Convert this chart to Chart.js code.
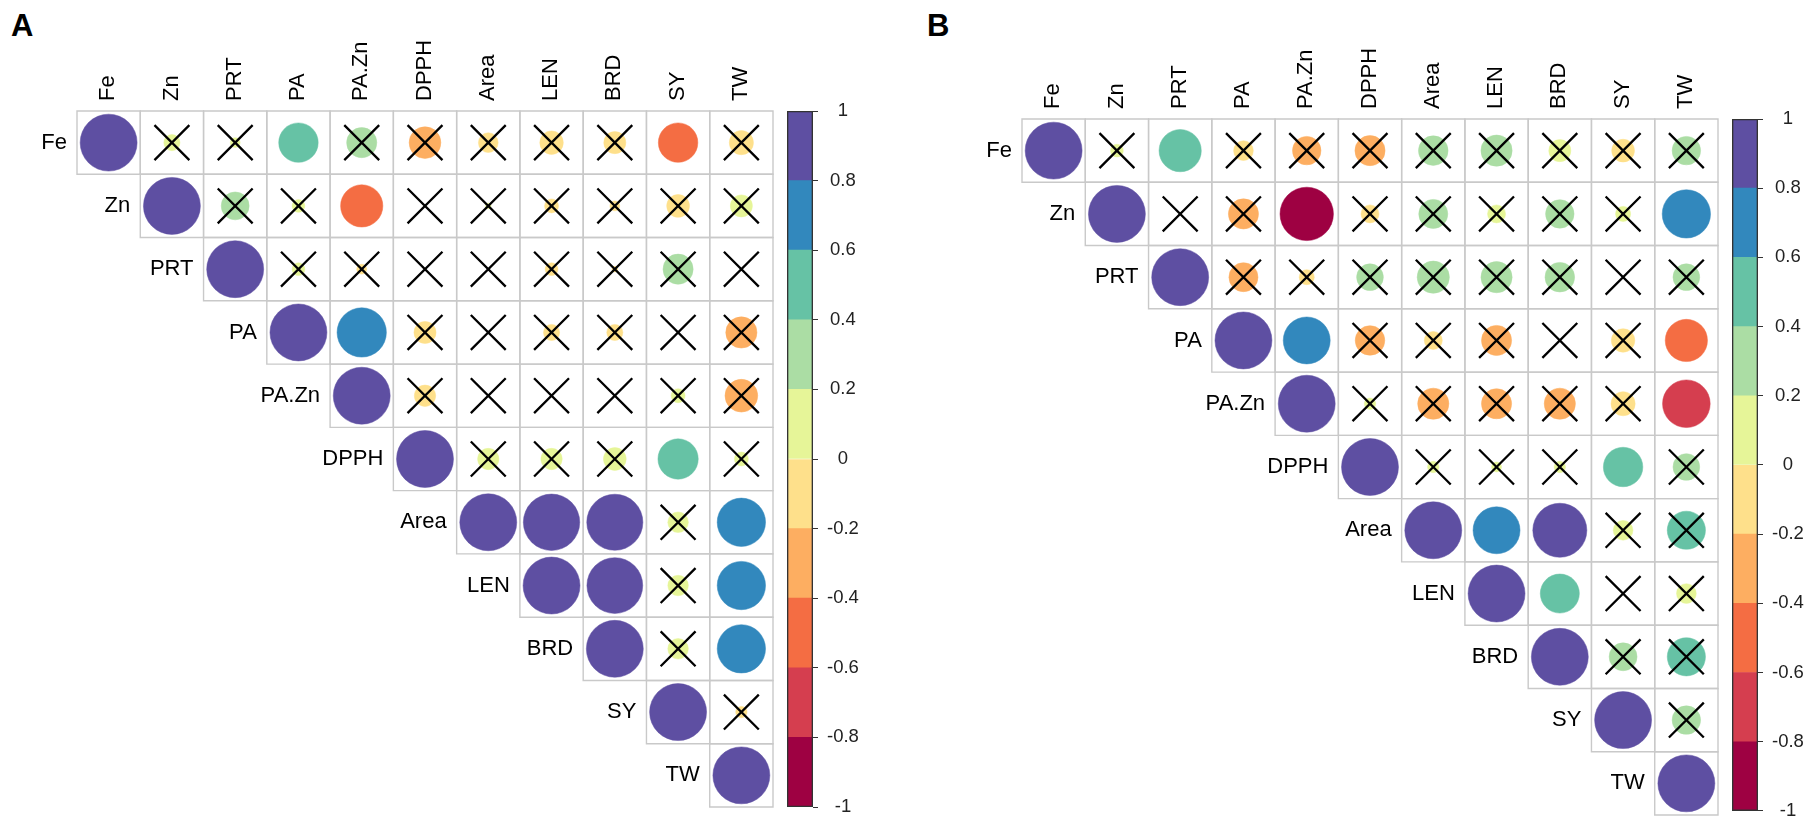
<!DOCTYPE html>
<html lang="en">
<head>
<meta charset="UTF-8">
<title>Correlation plots A / B</title>
<script src="https://cdn.jsdelivr.net/npm/chart.js"></script>
<style>
    body { margin: 0; background: #fff; }
    .stage { position: relative; width: 1819px; height: 831px; overflow: hidden; font-family: "Liberation Sans", Arial, sans-serif; }
    .stage canvas { position: absolute; top: 0; }
    .tag { position: absolute; font-weight: bold; font-size: 31px; line-height: 1; color: #000; }
</style>
</head>
<body>
<div class="stage">
    <div class="tag" style="left:11px;top:10px">A</div>
    <div class="tag" style="left:927px;top:10px">B</div>
    <canvas id="corrA" width="790" height="831" style="left:0px"></canvas>
    <canvas id="barA" width="120" height="831" style="left:770px"></canvas>
    <canvas id="corrB" width="800" height="831" style="left:930px"></canvas>
    <canvas id="barB" width="104" height="831" style="left:1715px"></canvas>
</div>

<script>
    const vars = ["Fe", "Zn", "PRT", "PA", "PA.Zn", "DPPH", "Area", "LEN", "BRD", "SY", "TW"];

    // upper triangle, every row starts at the diagonal
    const corrA = [
        [1, 0.08, 0.03, 0.48, 0.28, -0.31, -0.12, -0.17, -0.15, -0.48, -0.18],
        [1, 0.24, 0.05, -0.55, 0.0, 0.01, -0.06, -0.03, -0.16, 0.15],
        [1, 0.05, -0.03, 0.0, 0.0, -0.05, -0.01, 0.28, 0.0],
        [1, 0.75, -0.15, 0.0, -0.08, -0.08, 0.0, -0.30],
        [1, -0.14, 0.0, 0.0, 0.0, 0.06, -0.33],
        [1, 0.14, 0.14, 0.16, 0.50, 0.06],
        [1, 0.98, 0.97, 0.13, 0.72],
        [1, 0.96, 0.13, 0.72],
        [1, 0.13, 0.72],
        [1, -0.04],
        [1]
    ];
    // 1 = not significant (crossed out)
    const crossA = [
        [0, 1, 1, 0, 1, 1, 1, 1, 1, 0, 1],
        [0, 1, 1, 0, 1, 1, 1, 1, 1, 1],
        [0, 1, 1, 1, 1, 1, 1, 1, 1],
        [0, 0, 1, 1, 1, 1, 1, 1],
        [0, 1, 1, 1, 1, 1, 1],
        [0, 1, 1, 1, 0, 1],
        [0, 0, 0, 1, 0],
        [0, 0, 1, 0],
        [0, 1, 0],
        [0, 1],
        [0]
    ];

    const corrB = [
        [1, 0.05, 0.55, -0.12, -0.25, -0.28, 0.27, 0.30, 0.15, -0.16, 0.25],
        [1, 0.0, -0.28, -0.88, -0.10, 0.26, 0.10, 0.25, 0.07, 0.72],
        [1, -0.26, -0.07, 0.22, 0.32, 0.30, 0.27, 0.0, 0.22],
        [1, 0.68, -0.27, -0.10, -0.28, 0.0, -0.17, -0.55],
        [1, 0.04, -0.30, -0.28, -0.30, -0.18, -0.70],
        [1, 0.04, 0.03, 0.04, 0.48, 0.22],
        [1, 0.68, 0.90, 0.12, 0.45],
        [1, 0.47, 0.0, 0.12],
        [1, 0.24, 0.45],
        [1, 0.25],
        [1]
    ];
    const crossB = [
        [0, 1, 0, 1, 1, 1, 1, 1, 1, 1, 1],
        [0, 1, 1, 0, 1, 1, 1, 1, 1, 0],
        [0, 1, 1, 1, 1, 1, 1, 1, 1],
        [0, 0, 1, 1, 1, 1, 1, 0],
        [0, 1, 1, 1, 1, 1, 0],
        [0, 1, 1, 1, 0, 1],
        [0, 0, 0, 1, 1],
        [0, 0, 1, 1],
        [0, 1, 1],
        [0, 1],
        [0]
    ];

    // colour bar, from -1 up to 1
    const barTicks = [-1, -0.8, -0.6, -0.4, -0.2, 0, 0.2, 0.4, 0.6, 0.8, 1];
    const barColors = ["#9E0142", "#D53E4F", "#F46D43", "#FDAE61", "#FEE08B",
                       "#E6F598", "#ABDDA4", "#66C2A5", "#3288BD", "#5E4FA2"];

    const FONT = '"Liberation Sans", Arial, sans-serif';
    Chart.defaults.font.family = FONT;

    function colorFor(v) {
        let k = Math.floor((v + 1) / 0.2);
        return barColors[Math.max(0, Math.min(9, k))];
    }

    function cellPx(chart) {
        const x = chart.scales.x;
        return Math.abs(x.getPixelForValue(1) - x.getPixelForValue(0));
    }

    const rowLabels = {
        id: "rowLabels",
        afterDatasetsDraw(chart) {
            const { ctx, scales: { x, y } } = chart;
            ctx.save();
            ctx.font = "22px " + FONT;
            ctx.fillStyle = "#000";
            ctx.textAlign = "right";
            ctx.textBaseline = "middle";
            vars.forEach((name, i) => {
                ctx.fillText(name, x.getPixelForValue(i - 0.5) - 10, y.getPixelForValue(i));
            });
            ctx.restore();
        }
    };

    function createCorr(canvasId, corr, cross, pad, gridTop) {
        const cells = [], circles = [], crosses = [];
        corr.forEach((row, i) => {
            row.forEach((v, k) => {
                const j = i + k;
                cells.push({ x: j, y: i });
                circles.push({ x: j, y: i, v: v });
                if (cross[i][k]) crosses.push({ x: j, y: i });
            });
        });

        new Chart(document.getElementById(canvasId), {
            type: "scatter",
            data: {
                datasets: [
                    {
                        data: cells, order: 3, clip: false,
                        pointStyle: "rect",
                        pointRadius: c => cellPx(c.chart) / 2 / Math.SQRT1_2,
                        backgroundColor: "rgba(255,255,255,0)",
                        borderColor: "#c9c9c9",
                        borderWidth: 1.4
                    },
                    {
                        data: circles, order: 2, clip: false,
                        pointStyle: "circle",
                        pointRadius: c => cellPx(c.chart) * 0.45 * Math.sqrt(Math.abs(c.raw.v)),
                        backgroundColor: c => colorFor(c.raw.v),
                        borderColor: c => colorFor(c.raw.v),
                        borderWidth: 0.5
                    },
                    {
                        data: crosses, order: 1, clip: false,
                        pointStyle: "crossRot",
                        pointRadius: c => cellPx(c.chart) * 0.39,
                        borderColor: "#000",
                        borderWidth: 2.3
                    }
                ]
            },
            options: {
                responsive: false,
                animation: false,
                events: [],
                layout: { padding: pad },
                plugins: { legend: { display: false }, tooltip: { enabled: false } },
                scales: {
                    x: {
                        type: "linear", position: "top", min: -0.5, max: 10.5,
                        grid: { display: false, drawTicks: false },
                        border: { display: false },
                        afterBuildTicks: s => { s.ticks = vars.map((_, i) => ({ value: i })); },
                        afterFit: s => { s.height = gridTop; },
                        ticks: {
                            autoSkip: false, minRotation: 90, maxRotation: 90, padding: 10,
                            labelOffset: 26,
                            color: "#000", font: { size: 22 },
                            callback: v => vars[v]
                        }
                    },
                    y: { type: "linear", min: -0.5, max: 10.5, reverse: true, display: false }
                }
            },
            plugins: [rowLabels]
        });
    }

    function createBar(canvasId, top, bottom, axisW) {
        const segs = barColors.map((c, k) => ({
            data: [[barTicks[k], barTicks[k + 1]]],
            backgroundColor: c, grouped: false, order: 2,
            barPercentage: 1, categoryPercentage: 1
        }));
        segs.push({
            data: [[-1, 1]], backgroundColor: "rgba(0,0,0,0)",
            borderColor: "#333", borderWidth: 1, borderSkipped: false,
            grouped: false, order: 1, barPercentage: 1, categoryPercentage: 1
        });

        new Chart(document.getElementById(canvasId), {
            type: "bar",
            data: { labels: [""], datasets: segs },
            options: {
                responsive: false,
                animation: false,
                events: [],
                layout: { padding: { left: 17, right: 0, top: top, bottom: 831 - bottom } },
                plugins: { legend: { display: false }, tooltip: { enabled: false } },
                scales: {
                    x: { display: false },
                    y: {
                        position: "right", min: -1, max: 1,
                        afterBuildTicks: s => { s.ticks = barTicks.map(v => ({ value: v })); },
                        afterFit: s => { s.width = axisW; },
                        grid: { drawOnChartArea: false, drawTicks: true, tickLength: 5, color: "#333" },
                        border: { display: false },
                        ticks: {
                            crossAlign: "center", padding: 9, color: "#222",
                            font: { size: 18.5 },
                            callback: v => String(v)
                        }
                    }
                }
            }
        });
    }

    createCorr("corrA", corrA, crossA, { left: 77, right: 17, top: 0, bottom: 24 }, 111);
    createBar("barA", 111, 807, 77);
    createCorr("corrB", corrB, crossB, { left: 92, right: 12, top: 0, bottom: 16 }, 119);
    createBar("barB", 119, 815, 61);
</script>
</body>
</html>
